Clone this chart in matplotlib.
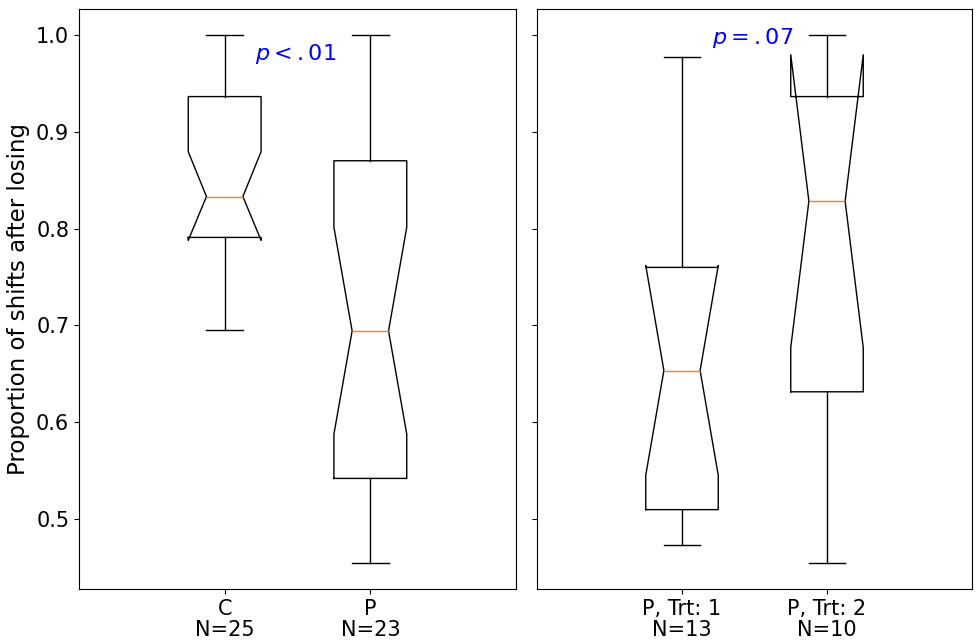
import matplotlib
matplotlib.use("Agg")
from matplotlib import pyplot as plt

# box statistics (proportion of shifts after losing)
labels_left = ["C\nN=25", "P\nN=23"]
labels_right = ["P, Trt: 1\nN=13", "P, Trt: 2\nN=10"]

whislo_left = [0.6956, 0.4545]
q1_left = [0.791, 0.5417]
med_left = [0.8333, 0.6943]
q3_left = [0.9367, 0.8703]
whishi_left = [1.0, 1.0]
cilo_left = [0.788, 0.5875]
cihi_left = [0.8797, 0.8015]

whislo_right = [0.4733, 0.4545]
q1_right = [0.5094, 0.6313]
med_right = [0.6533, 0.8286]
q3_right = [0.760, 0.9367]
whishi_right = [0.9775, 1.0]
cilo_right = [0.545, 0.677]
cihi_right = [0.762, 0.980]

P_LEFT = "$p<.01$"
P_RIGHT = "$p=.07$"


def make_stats(whislo, q1, med, q3, whishi, cilo, cihi):
    stats = []
    for i in range(len(med)):
        stats.append(dict(whislo=whislo[i], q1=q1[i], med=med[i], q3=q3[i],
                          whishi=whishi[i], cilo=cilo[i], cihi=cihi[i], fliers=[]))
    return stats


fig = plt.figure(figsize=(9.76, 6.43), dpi=100)
ax1 = fig.add_axes([79 / 976, 54 / 643, 437 / 976, 580 / 643])
ax2 = fig.add_axes([537 / 976, 54 / 643, 435 / 976, 580 / 643], sharey=ax1)

ax1.bxp(make_stats(whislo_left, q1_left, med_left, q3_left, whishi_left, cilo_left, cihi_left),
        positions=[1, 2], widths=0.5, shownotches=True, showfliers=False)
ax2.bxp(make_stats(whislo_right, q1_right, med_right, q3_right, whishi_right, cilo_right, cihi_right),
        positions=[1, 2], widths=0.5, shownotches=True, showfliers=False)

for ax, labs in [(ax1, labels_left), (ax2, labels_right)]:
    ax.set_xlim(0, 3)
    ax.set_xticks([1, 2])
    ax.set_xticklabels(labs, fontsize=15, linespacing=1.05)
    ax.tick_params(axis="y", labelsize=15)

ax1.set_ylim(0.4273, 1.0273)
ax1.set_yticks([0.5, 0.6, 0.7, 0.8, 0.9, 1.0])
ax2.tick_params(axis="y", labelleft=False)

ax1.set_ylabel("Proportion of shifts after losing", fontsize=16.5)

ax1.text(1.49, 0.9746, P_LEFT, color="blue", fontsize=16, ha="center", va="baseline")
ax2.text(1.49, 0.991, P_RIGHT, color="blue", fontsize=16, ha="center", va="baseline")

fig.savefig("out.png", dpi=100)
